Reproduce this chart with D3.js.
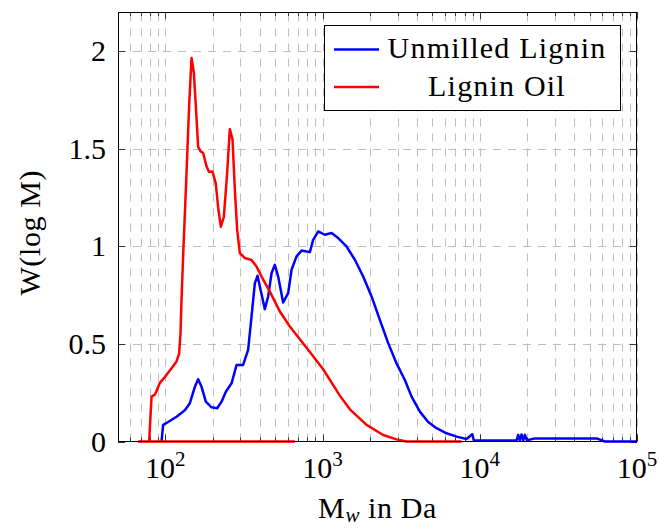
<!DOCTYPE html>
<html lang="en">
    <head>
        <meta charset="utf-8">
        <title>W(log M) vs. Mw</title>
        <script src="https://d3js.org/d3.v7.min.js"></script>
        <style type="text/css">
            body { margin: 0; background: white; }
            text { font-family: "Liberation Serif", "Times New Roman", serif; fill: black; }
        </style>
    </head>
    <body>
        <script type="text/javascript">

        // Data

        // Unmilled Lignin
        const ligninM = [94.6, 96.8, 104.2, 117.8, 133.1, 143.2, 154.1, 161.7, 170.0, 181.0, 196.7, 213.6,
                         227.8, 242.6, 263.8, 283.8, 312.5, 336.2, 353.4, 370.9, 386.0, 403.3, 429.5, 450.8,
                         473.8, 497.2, 522.0, 561.6, 604.2, 635.1, 683.3, 735.2, 791, 830.2, 871.4, 937.6,
                         1034, 1141, 1257, 1421, 1605, 1813, 2050, 2314, 2615, 2956, 3338, 3683, 4159, 4697,
                         5312, 6150, 7120, 8241, 8947, 9173, 17140, 17550, 17990, 18450, 18890, 19370, 19940,
                         22420, 55340, 62500, 100000];
        const ligninW = [0, 0.085, 0.10, 0.127, 0.16, 0.196, 0.28, 0.319, 0.28, 0.204, 0.175, 0.17,
                         0.204, 0.255, 0.298, 0.392, 0.392, 0.469, 0.64, 0.81, 0.849, 0.777, 0.678, 0.743,
                         0.862, 0.905, 0.845, 0.712, 0.76, 0.88, 0.948, 0.978, 0.973, 0.97, 1.033, 1.076,
                         1.059, 1.068, 1.042, 0.999, 0.931, 0.845, 0.743, 0.623, 0.504, 0.40, 0.315, 0.23, 0.153, 0.10,
                         0.068, 0.042, 0.025, 0.013, 0.037, 0.006, 0.005, 0.034, 0.006, 0.036, 0.006, 0.034, 0.006,
                         0.016, 0.016, 0, 0];

        // Lignin Oil (starts with a stretch back along the baseline)
        const oilM = [667, 67.8, 78.9, 81.7, 85.8, 92.3, 99.3, 109.5, 117.8, 122.4, 124.9, 126.8, 129.8,
                      136.4, 141.7, 146.8, 151.8, 156.3, 161.7, 167.5, 174.0, 182.8, 189.9, 199.7, 209.5,
                      216.7, 225.5, 235.6, 247.2, 257.2, 267.6, 276.8, 286.3, 297.8, 320.4, 353.4, 380.4,
                      409.3, 462.2, 535.1, 619.4, 791, 1009, 1288, 1492, 1905, 2430, 2956, 3422, 7661];
        const oilW = [0, 0, 0, 0.23, 0.24, 0.30, 0.33, 0.375, 0.41, 0.45, 0.555, 0.73, 0.95,
                      1.375, 1.72, 1.965, 1.89, 1.72, 1.51, 1.486, 1.478, 1.41, 1.38, 1.383, 1.32,
                      1.20, 1.10, 1.15, 1.375, 1.60, 1.546, 1.29, 1.085, 0.965, 0.94, 0.93, 0.896,
                      0.845, 0.768, 0.666, 0.589, 0.48, 0.37, 0.235, 0.165, 0.085, 0.033, 0.011, 0, 0];

        const xTickExp = [2, 3, 4, 5];
        const yTickValues = [0, 0.5, 1, 1.5, 2];
        const legendLabels = ["Unmilled Lignin", "Lignin Oil"];
        const seriesColors = ["#0000ff", "#ff0000"];

        // Constants

        const w = 659;
        const h = 528;
        const pLeft = 118, pRight = 637, pTop = 12, pBottom = 441.5;

        const svg = d3.select("body")
                      .append("svg")
                      .attr("width", w)
                      .attr("height", h)
                      .attr("font-family", "'Liberation Serif', 'Times New Roman', serif");

        // Scales
        const xScale = d3.scaleLog()
                         .domain([50, 1e5])
                         .range([pLeft, pRight]);

        const yScale = d3.scaleLinear()
                         .domain([0, 2.2])
                         .range([pBottom, pTop]);

        // all minor + major x positions for the grid
        const xGrid = [];
        for (let e = 1; e <= 4; e++) {
            for (let k = 1; k <= 9; k++) {
                const v = k * Math.pow(10, e);
                if (v > 50 && v <= 1e5) xGrid.push(v);
            }
        }
        xGrid.push(1e5);

        // Grid
        const grid = svg.append("g")
                        .attr("stroke", "#bdbdbd")
                        .attr("stroke-width", 1)
                        .attr("stroke-dasharray", "8,7");

        grid.selectAll("line.vg")
            .data(xGrid)
            .enter()
            .append("line")
            .attr("class", "vg")
            .attr("x1", d => Math.round(xScale(d)) + 0.5)
            .attr("x2", d => Math.round(xScale(d)) + 0.5)
            .attr("y1", pBottom)
            .attr("y2", pTop);

        grid.selectAll("line.hg")
            .data(yTickValues.filter(d => d > 0))
            .enter()
            .append("line")
            .attr("class", "hg")
            .attr("x1", pLeft)
            .attr("x2", pRight)
            .attr("y1", d => Math.round(yScale(d)) + 0.5)
            .attr("y2", d => Math.round(yScale(d)) + 0.5);

        // Ticks (inside the frame, pgfplots style)
        const ticks = svg.append("g").attr("stroke", "#333").attr("stroke-width", 1);
        yTickValues.forEach(v => {
            const y = Math.round(yScale(v)) + 0.5;
            ticks.append("line").attr("x1", pLeft).attr("x2", pLeft + 7).attr("y1", y).attr("y2", y);
            ticks.append("line").attr("x1", pRight).attr("x2", pRight - 7).attr("y1", y).attr("y2", y);
        });
        xGrid.forEach(v => {
            const x = Math.round(xScale(v)) + 0.5;
            const len = Number.isInteger(Math.log10(v)) ? 7 : 4;
            ticks.append("line").attr("x1", x).attr("x2", x).attr("y1", pBottom).attr("y2", pBottom - len);
            ticks.append("line").attr("x1", x).attr("x2", x).attr("y1", pTop).attr("y2", pTop + len);
        });

        // Lines
        const line = d3.line()
                       .x(d => xScale(d[0]))
                       .y(d => yScale(d[1]));

        const series = [
            ligninM.map((m, i) => [m, ligninW[i]]),
            oilM.map((m, i) => [m, oilW[i]])
        ];

        svg.append("clipPath")
           .attr("id", "plotclip")
           .append("rect")
           .attr("x", pLeft - 2)
           .attr("y", pTop)
           .attr("width", pRight - pLeft + 4)
           .attr("height", pBottom - pTop + 2);

        svg.selectAll("path.series")
           .data(series)
           .enter()
           .append("path")
           .attr("class", "series")
           .attr("clip-path", "url(#plotclip)")
           .attr("d", line)
           .attr("fill", "none")
           .attr("stroke", (d, i) => seriesColors[i])
           .attr("stroke-width", 2.5)
           .attr("stroke-linejoin", "round");

        // Frame
        svg.append("rect")
           .attr("x", pLeft + 0.5)
           .attr("y", pTop + 0.5)
           .attr("width", pRight - pLeft - 1)
           .attr("height", pBottom - pTop - 0.5)
           .attr("fill", "none")
           .attr("stroke", "black")
           .attr("stroke-width", 1);

        // Tick labels
        svg.selectAll("text.ylab")
           .data(yTickValues)
           .enter()
           .append("text")
           .attr("class", "ylab")
           .attr("x", pLeft - 12)
           .attr("y", d => yScale(d) + 10)
           .attr("text-anchor", "end")
           .attr("font-size", "30px")
           .text(d => d);

        const xl = svg.selectAll("text.xlab")
           .data(xTickExp)
           .enter()
           .append("text")
           .attr("class", "xlab")
           .attr("x", d => xScale(Math.pow(10, d)))
           .attr("y", 478)
           .attr("text-anchor", "middle")
           .attr("font-size", "30px");
        xl.append("tspan").text("10");
        xl.append("tspan")
          .attr("dy", -12)
          .attr("font-size", "21px")
          .text(d => d);

        // Axis labels
        const xTitle = svg.append("text")
           .attr("x", (pLeft + pRight) / 2)
           .attr("y", 518)
           .attr("text-anchor", "middle")
           .attr("font-size", "30px")
           .attr("letter-spacing", "0.6px");
        xTitle.append("tspan").text("M");
        xTitle.append("tspan")
              .attr("dy", 4)
              .attr("font-size", "21px")
              .attr("font-style", "italic")
              .text("w");
        xTitle.append("tspan")
              .attr("dy", -4)
              .text(" in Da");

        svg.append("text")
           .attr("transform", "translate(29," + ((pTop + pBottom) / 2 + 6) + ") rotate(-90)")
           .attr("text-anchor", "middle")
           .attr("dominant-baseline", "central")
           .attr("font-size", "30px")
           .attr("letter-spacing", "0.6px")
           .text("W(log M)");

        // Legend
        const legend = svg.append("g");
        legend.append("rect")
              .attr("x", 324.5)
              .attr("y", 25.5)
              .attr("width", 296)
              .attr("height", 85)
              .attr("fill", "white")
              .attr("stroke", "black")
              .attr("stroke-width", 1);

        legendLabels.forEach((name, i) => {
            const ly = 49.5 + i * 37.5;
            legend.append("line")
                  .attr("x1", 334)
                  .attr("x2", 379)
                  .attr("y1", ly)
                  .attr("y2", ly)
                  .attr("stroke", seriesColors[i])
                  .attr("stroke-width", 2.5);
            legend.append("text")
                  .attr("x", 497)
                  .attr("y", ly + 8.5)
                  .attr("text-anchor", "middle")
                  .attr("font-size", "30px")
                  .attr("letter-spacing", "1.2px")
                  .text(name);
        });

        </script>
    </body>
</html>
